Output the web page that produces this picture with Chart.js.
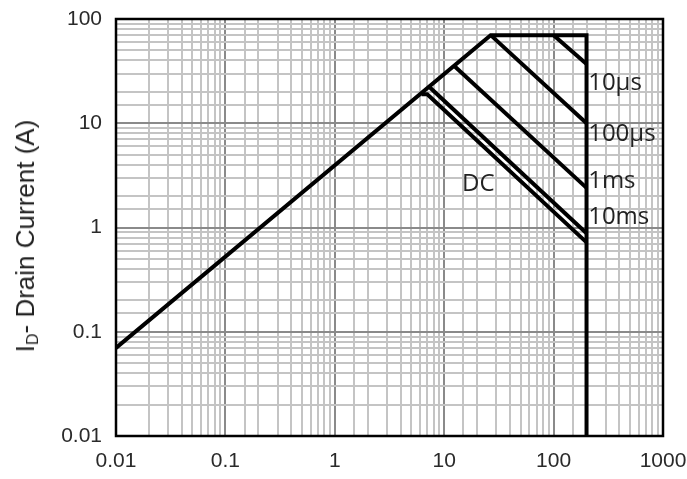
<!DOCTYPE html>
<html>
<head>
<meta charset="utf-8">
<script src="https://cdn.jsdelivr.net/npm/chart.js@4.4.0/dist/chart.umd.min.js"></script>
<style>
    html, body { margin: 0; padding: 0; background: #fff; }
    #wrap { position: relative; width: 687px; height: 479px; }
    #ytitle {
        position: absolute; left: 26px; top: 236px;
        transform: translate(-50%, -50%) rotate(-90deg);
        font-family: "Liberation Sans", Arial, sans-serif; font-size: 26px;
        color: #222; white-space: nowrap;
    }
    #ytitle sub { font-size: 16px; vertical-align: -4px; }
</style>
</head>
<body>
<div id="wrap">
    <canvas id="myChart" width="687" height="479"></canvas>
    <div id="ytitle">I<sub>D</sub>- Drain Current (A)</div>
</div>
<script>
// limite de operacion segura (SOA)
const limiteX = [0.01, 26.6, 200, 200];
const limiteY = [0.07, 70, 70, 0.01];

const us10X = [100, 200];
const us10Y = [70, 37];

const us100X = [26.6, 200];
const us100Y = [70, 10];

const ms1X = [12.5, 200];
const ms1Y = [35, 2.4];

const ms10X = [7.4, 200];
const ms10Y = [22, 0.88];

const dcX = [6.2, 7.0, 200];
const dcY = [19, 19, 0.72];

const etiquetas = ['10µs', '100µs', '1ms', '10ms', 'DC'];
const etiquetaX = [207, 207, 207, 207, 20.5];
const etiquetaY = [24, 7.9, 2.8, 1.25, 2.6];
const etiquetaAlign = ['left', 'left', 'left', 'left', 'center'];

const ticksX = [0.01, 0.1, 1, 10, 100, 1000];
const ticksY = [0.01, 0.1, 1, 10, 100];

const puntos = (xs, ys) => xs.map((x, i) => ({ x: x, y: ys[i] }));

const esDecada = (v) => {
    const l = Math.log10(v);
    return Math.abs(l - Math.round(l)) < 1e-6;
};

const linea = (xs, ys) => ({
    data: puntos(xs, ys),
    borderColor: '#000',
    borderWidth: 4,
    pointRadius: 0,
    fill: false,
    tension: 0
});

const marco = {
    id: 'marco',
    beforeDatasetsDraw(chart) {
        const a = chart.chartArea;
        const ctx = chart.ctx;
        ctx.save();
        ctx.strokeStyle = '#000';
        ctx.lineWidth = 2.5;
        ctx.strokeRect(a.left, a.top, a.right - a.left, a.bottom - a.top);
        ctx.restore();
    },
    afterDatasetsDraw(chart) {
        const ctx = chart.ctx;
        const sx = chart.scales.x, sy = chart.scales.y;
        ctx.save();
        ctx.fillStyle = '#222';
        ctx.font = '24px "Open Sans", sans-serif';
        ctx.textBaseline = 'middle';
        etiquetas.forEach((t, i) => {
            ctx.textAlign = etiquetaAlign[i];
            ctx.fillText(t, sx.getPixelForValue(etiquetaX[i]), sy.getPixelForValue(etiquetaY[i]));
        });
        ctx.restore();
    }
};

const gridColor = (c) => {
    if (c.tick && esDecada(c.tick.value)) return '#8a8a8a';
    return '#c4c4c4';
};

var ctx1 = document.getElementById('myChart').getContext('2d');
var myChart = new Chart(ctx1, {
    type: 'line',
    data: {
        datasets: [
            linea(limiteX, limiteY),
            linea(us10X, us10Y),
            linea(us100X, us100Y),
            linea(ms1X, ms1Y),
            linea(ms10X, ms10Y),
            linea(dcX, dcY)
        ]
    },
    options: {
        responsive: false,
        animation: false,
        layout: { padding: { top: 19, right: 24, left: 0, bottom: 0 } },
        plugins: {
            legend: { display: false },
            tooltip: { enabled: false }
        },
        scales: {
            x: {
                type: 'logarithmic',
                min: 0.01,
                max: 1000,
                afterFit: (s) => { s.height = 43; s.paddingLeft = 0; s.paddingRight = 0; },
                grid: { color: gridColor, lineWidth: 2, drawTicks: false },
                border: { display: false },
                ticks: {
                    autoSkip: false,
                    maxRotation: 0,
                    padding: 13,
                    color: '#2a2a2a',
                    font: { family: '"Liberation Sans", Arial, sans-serif', size: 21 },
                    callback: (v) => ticksX.find(t => Math.abs(t - v) < t * 1e-6) !== undefined ? String(v) : ''
                }
            },
            y: {
                type: 'logarithmic',
                min: 0.01,
                max: 100,
                afterFit: (s) => { s.width = 116; s.paddingTop = 0; s.paddingBottom = 0; },
                grid: { color: gridColor, lineWidth: 2, drawTicks: false },
                border: { display: false },
                ticks: {
                    autoSkip: false,
                    padding: 14,
                    color: '#2a2a2a',
                    font: { family: '"Liberation Sans", Arial, sans-serif', size: 21 },
                    callback: (v) => ticksY.find(t => Math.abs(t - v) < t * 1e-6) !== undefined ? String(v) : ''
                }
            }
        }
    },
    plugins: [marco]
});
</script>
</body>
</html>
